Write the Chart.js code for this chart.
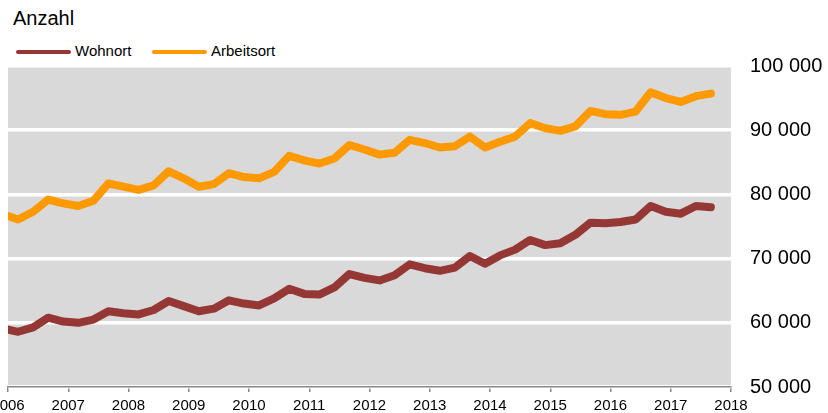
<!DOCTYPE html>
<html>
<head>
<meta charset="utf-8">
<script src="https://cdn.jsdelivr.net/npm/chart.js@4"></script>
<style>
  html, body { margin: 0; padding: 0; background: #fff; }
  body { width: 828px; height: 413px; position: relative; overflow: hidden;
         font-family: "Liberation Sans", Arial, sans-serif; color: #000; }
  #unit { position: absolute; left: 13px; top: 7px; font-size: 20px; }
  #legend { position: absolute; left: 16px; top: 42px; font-size: 15px; }
  .leg { position: absolute; top: 0; white-space: nowrap; }
  .leg span.swatch { position: absolute; top: 8px; width: 55px; height: 4px; border-radius: 2px; }
  .leg span.txt { position: absolute; left: 59px; top: 0; }
  #chart-box { position: absolute; left: -30px; top: 0; width: 858px; height: 413px; }
</style>
</head>
<body>
<div id="unit">Anzahl</div>
<div id="legend"></div>
<div id="chart-box"><canvas id="c"></canvas></div>
<script>
// quarterly periods (month of quarter end)
const periods = [
  '2005-12','2006-03','2006-06','2006-09','2006-12','2007-03','2007-06','2007-09',
  '2007-12','2008-03','2008-06','2008-09','2008-12','2009-03','2009-06','2009-09',
  '2009-12','2010-03','2010-06','2010-09','2010-12','2011-03','2011-06','2011-09',
  '2011-12','2012-03','2012-06','2012-09','2012-12','2013-03','2013-06','2013-09',
  '2013-12','2014-03','2014-06','2014-09','2014-12','2015-03','2015-06','2015-09',
  '2015-12','2016-03','2016-06','2016-09','2016-12','2017-03','2017-06','2017-09'
];

const wohnort = [
  59100, 58600, 59300, 60800, 60200, 60000, 60500, 61800,
  61500, 61300, 62000, 63400, 62600, 61800, 62200, 63500,
  63000, 62700, 63800, 65300, 64500, 64400, 65500, 67600,
  67000, 66600, 67400, 69100, 68500, 68100, 68600, 70400,
  69200, 70500, 71400, 72900, 72100, 72400, 73700, 75600,
  75500, 75700, 76100, 78200, 77300, 77000, 78200, 78000
];

const arbeitsort = [
  76900, 76100, 77300, 79200, 78600, 78200, 79000, 81700,
  81200, 80700, 81400, 83600, 82500, 81200, 81600, 83300,
  82700, 82500, 83500, 86000, 85300, 84800, 85600, 87700,
  87000, 86200, 86500, 88500, 88000, 87300, 87500, 89000,
  87300, 88200, 89000, 91100, 90300, 89900, 90600, 93000,
  92500, 92400, 92900, 95900, 95000, 94400, 95300, 95700
];

const seriesNames = ['Wohnort', 'Arbeitsort'];
const seriesColors = ['#953735', '#ff9900'];
const yearMin = 2006, yearMax = 2018;
const yMin = 50000, yMax = 100000, yStep = 10000;

function periodToX(p) {
  const [y, m] = p.split('-').map(Number);
  return y + (m - 1) / 12;
}
function toPoints(values) {
  return values.map((v, i) => ({ x: periodToX(periods[i]), y: v }));
}
function fmt(v) {
  return String(v).replace(/\B(?=(\d{3})+(?!\d))/g, ' ');
}

// HTML legend
const legend = document.getElementById('legend');
const legendLeft = [0, 136];
seriesNames.forEach((name, i) => {
  const d = document.createElement('div');
  d.className = 'leg';
  d.style.left = legendLeft[i] + 'px';
  d.innerHTML = `<span class="swatch" style="background:${seriesColors[i]}"></span><span class="txt">${name}</span>`;
  legend.appendChild(d);
});

const plotBg = {
  id: 'plotBg',
  beforeDraw(chart) {
    const a = chart.chartArea, ctx = chart.ctx;
    ctx.save();
    ctx.fillStyle = '#d9d9d9';
    ctx.fillRect(a.left, a.top, a.right - a.left, a.bottom - a.top);
    ctx.restore();
  }
};

const fontFam = '"Liberation Sans", Arial, sans-serif';

new Chart(document.getElementById('c'), {
  type: 'line',
  data: {
    datasets: [
      { label: seriesNames[0], data: toPoints(wohnort), borderColor: seriesColors[0],
        borderWidth: 8, pointRadius: 0, tension: 0, borderJoinStyle: 'round', borderCapStyle: 'round', order: 1 },
      { label: seriesNames[1], data: toPoints(arbeitsort), borderColor: seriesColors[1],
        borderWidth: 8, pointRadius: 0, tension: 0, borderJoinStyle: 'round', borderCapStyle: 'round', order: 2 }
    ]
  },
  options: {
    responsive: true,
    maintainAspectRatio: false,
    animation: false,
    layout: { padding: { left: 38, top: 66, right: 0, bottom: 0 } },
    plugins: { legend: { display: false }, tooltip: { enabled: false } },
    scales: {
      x: {
        type: 'linear', min: yearMin, max: yearMax,
        afterFit(s) { s.height = 26; },
        grid: { drawOnChartArea: false, drawTicks: true, tickLength: 5, color: '#868686', lineWidth: 1.5 },
        border: { display: true, color: '#868686', width: 1.5 },
        ticks: { stepSize: 1, autoSkip: false, maxRotation: 0, padding: 5, color: '#000',
                 font: { family: fontFam, size: 15 }, callback: v => String(v) }
      },
      y: {
        position: 'right', min: yMin, max: yMax,
        afterFit(s) { s.width = 97; },
        grid: { color: '#ffffff', lineWidth: 3.5, drawTicks: true, tickLength: 19, tickColor: 'rgba(0,0,0,0)' },
        border: { display: false },
        ticks: { stepSize: yStep, padding: 0, color: '#000',
                 font: { family: fontFam, size: 20 }, callback: v => fmt(v) }
      }
    }
  },
  plugins: [plotBg]
});
</script>
</body>
</html>
